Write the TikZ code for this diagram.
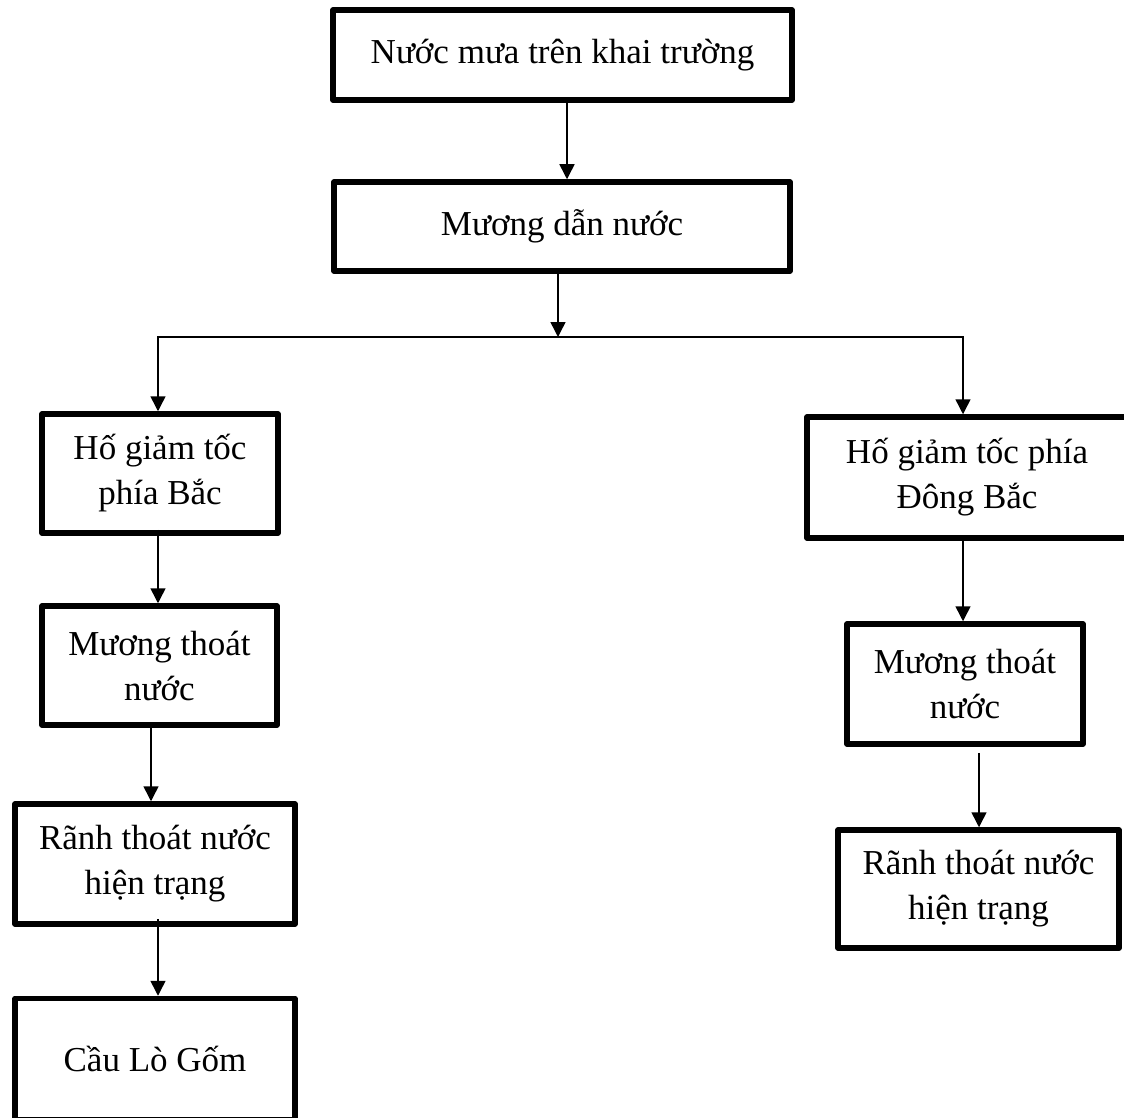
\documentclass[tikz,border=0pt]{standalone}
\usepackage{fontspec}
\setmainfont{Liberation Serif}
\usetikzlibrary{arrows.meta}
\begin{document}
\begin{tikzpicture}[x=1pt,y=-1pt,
  box/.style={draw, line width=5.5pt, line join=round, inner sep=0pt, align=center,
    font=\fontsize{35}{45}\selectfont},
  conn/.style={line width=1.5pt, -{Triangle[length=15pt,width=15pt]}}]
\useasboundingbox (0,0) rectangle (1124,1118);
\clip (0,0) rectangle (1124,1118);
\node[box, minimum width=459pt, minimum height=90pt] (b1) at (562.5,55) {Nước mưa trên khai trường};
\node[box, minimum width=456pt, minimum height=89pt] (b2) at (562,226.5) {Mương dẫn nước};
\node[box, minimum width=236pt, minimum height=119pt] (b3) at (160,473.5) {Hố giảm tốc\\phía Bắc};
\node[box, minimum width=320pt, minimum height=121pt] (b4) at (967,477.5) {Hố giảm tốc phía\\Đông Bắc};
\node[box, minimum width=235pt, minimum height=119pt] (b5) at (159.5,665.5) {Mương thoát\\nước};
\node[box, minimum width=236pt, minimum height=120pt] (b6) at (965,684) {Mương thoát\\nước};
\node[box, minimum width=280pt, minimum height=120pt] (b7) at (155,864) {Rãnh thoát nước\\hiện trạng};
\node[box, minimum width=281pt, minimum height=118pt] (b8) at (978.5,889) {Rãnh thoát nước\\hiện trạng};
\node[box, minimum width=280pt, minimum height=121pt] (b9) at (155,1059) {Cầu Lò Gốm};
\coordinate (j) at (558,337);
\draw[conn] ([xshift=4.5pt]b1.south) -- ([xshift=4.5pt]b1.south |- b2.north);
\draw[conn] ([xshift=-4pt]b2.south) -- (j);
\draw[conn] (j) -| ([xshift=-2pt]b3.north);
\draw[conn] (j) -| ([xshift=-4pt]b4.north);
\draw[conn] ([xshift=-2pt,yshift=6pt]b3.south) -- ([xshift=-2pt]b3.south |- b5.north);
\draw[conn] ([xshift=-8.5pt]b5.south) -- ([xshift=-8.5pt]b5.south |- b7.north);
\draw[conn] ([xshift=3pt,yshift=8pt]b7.south) -- ([xshift=3pt]b7.south |- b9.north);
\draw[conn] ([xshift=-4pt]b4.south) -- ([xshift=-4pt]b4.south |- b6.north);
\draw[conn] ([xshift=14pt,yshift=-6pt]b6.south) -- ([xshift=14pt]b6.south |- b8.north);
\end{tikzpicture}
\end{document}
